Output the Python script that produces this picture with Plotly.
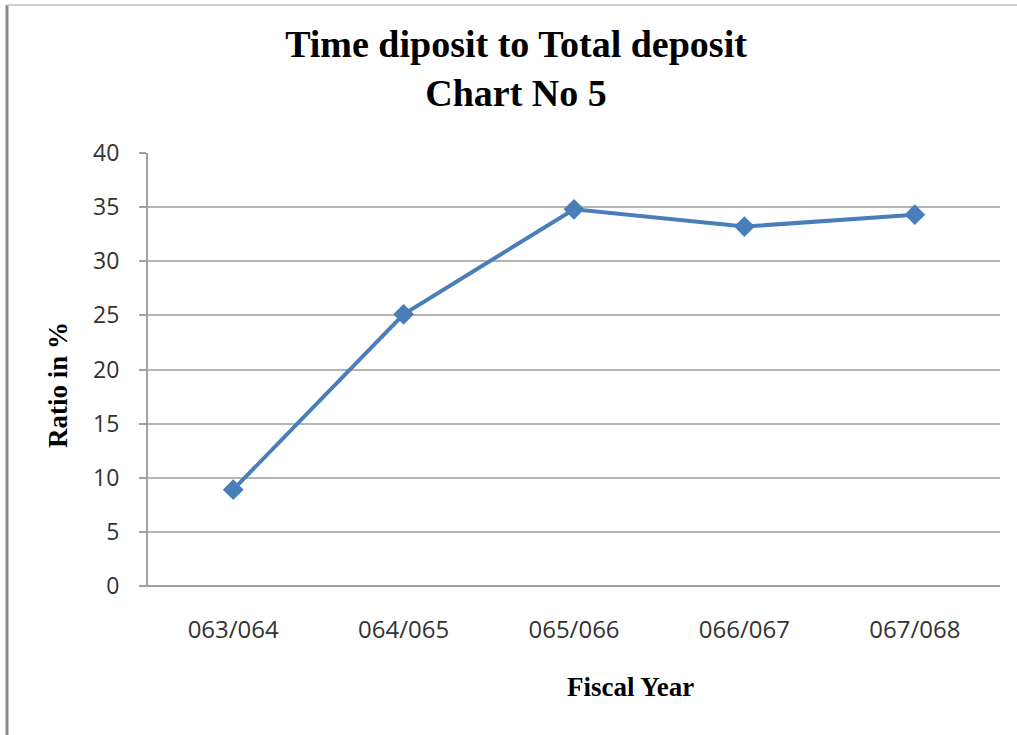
import plotly.graph_objects as go

fiscal_years = ["063/064", "064/065", "065/066", "066/067", "067/068"]
ratio_values = [8.9, 25.1, 34.8, 33.2, 34.3]
y_ticks = [0, 5, 10, 15, 20, 25, 30, 35, 40]

W, H = 1017, 735
L, R, T, B = 148, 17, 153, 149
pw, ph = W - L - R, H - T - B

def px_x(px):
    return (px - L) / pw

def px_y(py):
    return (H - B - py) / ph

fig = go.Figure()
fig.add_trace(go.Scatter(
    x=fiscal_years, y=ratio_values, mode="lines+markers",
    line=dict(color="#4a7ebb", width=4),
    marker=dict(symbol="diamond", size=16, color="#4a7ebb"),
    showlegend=False, cliponaxis=False,
))

fig.update_layout(
    width=W, height=H,
    margin=dict(l=L, r=R, t=T, b=B),
    paper_bgcolor="white", plot_bgcolor="white",
    title=dict(
        text="<b>Time diposit to Total deposit<br>Chart No 5</b>",
        font=dict(family="Liberation Serif", size=38, color="#000000"),
        x=516 / W, xanchor="center", xref="container",
        y=1 - 57 / H, yanchor="top", yref="container",
    ),
    xaxis=dict(
        type="category", range=[-0.5, 4.5],
        showgrid=False, showline=False, zeroline=False,
        ticks="", ticklabelstandoff=27,
        tickfont=dict(family="Open Sans", size=24, color="#333333"),
    ),
    yaxis=dict(
        range=[0, 40], tickvals=y_ticks,
        showgrid=True, gridcolor="#b4b4b4", gridwidth=2,
        showline=True, linecolor="#a0a0a0", linewidth=2,
        zeroline=False,
        ticks="outside", ticklen=7, tickcolor="#a0a0a0", tickwidth=2,
        ticklabelstandoff=15,
        tickfont=dict(family="Open Sans", size=23, color="#333333"),
    ),
    annotations=[
        dict(text="<b>Fiscal Year</b>", xref="paper", yref="paper",
             x=px_x(630), y=px_y(687), xanchor="center", yanchor="middle",
             showarrow=False,
             font=dict(family="Liberation Serif", size=27, color="#000000")),
        dict(text="<b>Ratio in %</b>", xref="paper", yref="paper",
             x=px_x(58), y=px_y(385), xanchor="center", yanchor="middle",
             textangle=-90, showarrow=False,
             font=dict(family="Liberation Serif", size=27, color="#000000")),
    ],
    shapes=[
        dict(type="line", xref="paper", yref="paper",
             x0=px_x(7), x1=px_x(7), y0=px_y(5), y1=px_y(735),
             line=dict(color="#8c8c8c", width=3)),
        dict(type="line", xref="paper", yref="paper",
             x0=px_x(7), x1=px_x(1017), y0=px_y(5), y1=px_y(5),
             line=dict(color="#d0d0d0", width=2)),
        dict(type="line", xref="paper", yref="paper",
             x0=px_x(141), x1=1, y0=0, y1=0,
             line=dict(color="#a0a0a0", width=2)),
    ],
)

fig.write_html("out.html")
